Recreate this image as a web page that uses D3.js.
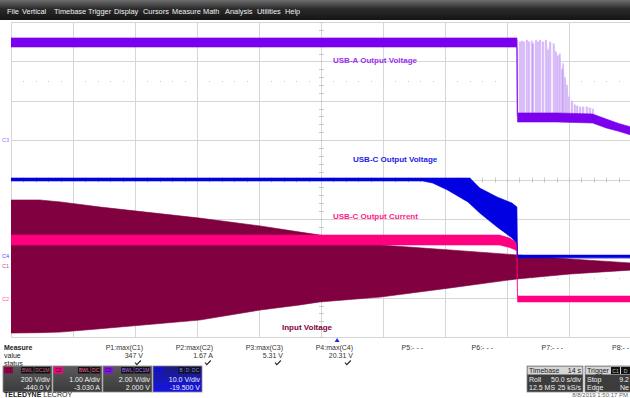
<!DOCTYPE html>
<html><head><meta charset="utf-8">
<script src="https://cdn.jsdelivr.net/npm/d3@7"></script>
<style>body{margin:0;background:#fff;overflow:hidden}svg{display:block;font-family:'Liberation Sans',Arial,sans-serif}</style>
</head><body><svg id="c" width="630" height="398"></svg>
<script>
// ---------------- DATA ----------------
const menuItems = ["File","Vertical","Timebase","Trigger","Display","Cursors","Measure","Math","Analysis","Utilities","Help"];

const chNames = ["C1","C2","C3","C4"];
const chVdiv = [200, 1, 2, 10];
const chOffset = [-440, -3.03, 2, -19.5];
const chScaleLabels = ["200 V/div","1.00 A/div","2.00 V/div","10.0 V/div"];
const chOffsetLabels = ["-440.0 V","-3.030 A","2.000 V","-19.500 V"];
const chTags = [["BWL","DC1M"],["BWL","DC"],["BWL","DC1M"],["B","D","DC"]];

// time in seconds (50 s/div, 10 div)
// C1: input voltage envelope (V)
const c1Time = [0, 23, 40, 72, 152, 201, 233, 249, 298, 354, 408, 451, 500];
const c1Hi   = [336, 336, 326, 300, 244, 204, 173, 158, 107, 82, 57, 36, 16];
const c1Lo   = [-340, -338, -335, -318, -274, -223, -197, -182, -157, -111, -65, -40, -20];
// C2: USB-C output current (A)
const c2Time = [0, 394, 402, 406, 408, 408.5, 500];
const c2Hi   = [1.62, 1.62, 1.544, 1.47, 1.42, 0.07, 0.07];
const c2Lo   = [1.367, 1.367, 1.305, 1.25, 1.22, -0.08, -0.08];
// C3: USB-A output voltage (V)
const c3Time = [0, 408, 408.5, 440, 469, 480, 490, 500];
const c3Hi   = [5.19, 5.19, 1.38, 1.38, 1.33, 1.07, 0.85, 0.67];
const c3Lo   = [4.73, 4.73, 0.92, 0.92, 0.87, 0.62, 0.45, 0.26];
const c3SpikeTime = [408.1,410.5,412.1,413.7,416.1,417.7,420.2,421.0,423.4,425.0,426.6,429.0,431.5,433.1,434.7,437.9,439.5,441.1,442.7,444.4,445.2,446.8,448.4,450.0,452.4,454.8,456.5,458.9,461.3,464.5,466.9,469.4];
const c3SpikePeak = [5.1,5.0,5.05,5.0,5.1,5.0,5.05,4.9,5.1,5.0,5.1,5.0,5.1,4.6,5.0,4.9,4.5,4.3,4.4,3.6,3.9,3.2,2.8,2.2,2.0,1.8,1.75,1.7,1.7,1.7,1.65,1.6];
// C4: USB-C output voltage (V)
const c4Time = [0, 332, 340, 352, 368.5, 370, 378, 392, 404, 408, 408.5, 500];
const c4Hi   = [19.88,19.88,19.88,19.88,19.88,19.88,17.34,15.05,13.53,12.52,0.3,0.3];
const c4Lo   = [19.12,19.12,18.61,16.83,13.79,13.35,11.0,7.44,4.65,3.37,-0.4,-0.4];

const traceLabels = ["USB-A Output Voltage","USB-C Output Voltage","USB-C Output Current","Input Voltage"];

const measNames  = ["P1:max(C1)","P2:max(C2)","P3:max(C3)","P4:max(C4)","P5:- - -","P6:- - -","P7:- - -","P8:- -"];
const measValues = ["347 V","1.67 A","5.31 V","20.31 V","","","",""];
const measOk     = [true,true,true,true,false,false,false,false];
const measRows   = ["Measure","value","status"];

const timebaseRows = [["Timebase","14 s"],["Roll","50.0 s/div"],["12.5 MS","25 kS/s"]];
const triggerRows  = [["Trigger",""],["Stop","9.2"],["Edge","Ne"]];
const triggerTags  = ["C1","D"];
const dateText = "8/8/2019 1:50:17 PM";

// ---------------- LAYOUT ----------------
const svg = d3.select("#c");
const PL=11, PR=631, PT=22, PB=337;
const x = d3.scaleLinear().domain([0,500]).range([PL,PR]);
const div = d3.scaleLinear().domain([-4,4]).range([PB,PT]);
const chY = i => v => div((v + chOffset[i]) / chVdiv[i]);
const colors = {C1:"#800040", C2:"#ff0080", C3:"#7a00ee", C4:"#0000e0"};
const defs = svg.append("defs");

// menu bar
const mg = defs.append("linearGradient").attr("id","mg").attr("x1",0).attr("y1",0).attr("x2",0).attr("y2",1);
mg.append("stop").attr("offset","0").attr("stop-color","#6e6e6e");
mg.append("stop").attr("offset","0.45").attr("stop-color","#2a2a2a");
mg.append("stop").attr("offset","1").attr("stop-color","#151515");
svg.append("rect").attr("x",0).attr("y",0).attr("width",630).attr("height",20).attr("fill","url(#mg)");
const menuX = [7,22,54,88,114,143,172,203,225,257,285];
svg.append("g").selectAll("text").data(menuItems).join("text")
  .attr("x",(d,i)=>menuX[i]).attr("y",13.5).attr("font-size",7.4).attr("fill","#f0f0f0").text(d=>d);

// grid
const grid = svg.append("g").attr("stroke","#d6d6d6").attr("stroke-width",1);
d3.range(0,501,50).forEach(t=>grid.append("line").attr("x1",Math.round(x(t))+0.5).attr("x2",Math.round(x(t))+0.5).attr("y1",PT).attr("y2",PB));
d3.range(-4,4.01,1).forEach(d=>grid.append("line").attr("x1",PL).attr("x2",PR).attr("y1",Math.round(div(d))+0.5).attr("y2",Math.round(div(d))+0.5));
// center ticks
const tk = svg.append("g").attr("stroke","#c8c8c8").attr("stroke-width",1);
d3.range(-4,4.001,0.2).forEach(d=>tk.append("line").attr("x1",x(250)-2).attr("x2",x(250)+3).attr("y1",Math.round(div(d))+0.5).attr("y2",Math.round(div(d))+0.5));
d3.range(0,500.1,10).forEach(t=>tk.append("line").attr("x1",Math.round(x(t))+0.5).attr("x2",Math.round(x(t))+0.5).attr("y1",div(0)-2).attr("y2",div(0)+3));
[2.5,-2.5].forEach(dv=>d3.range(0,500.1,10).forEach(t=>svg.append("rect").attr("x",Math.round(x(t))).attr("y",Math.round(div(dv))).attr("width",1).attr("height",1).attr("fill","#c8c8c8")));

// clip
defs.append("clipPath").attr("id","pc").append("rect").attr("x",PL).attr("y",PT).attr("width",PR-PL).attr("height",PB-PT);
const plot = svg.append("g").attr("clip-path","url(#pc)");

function band(ci, times, hi, lo, color){
  const y = chY(ci);
  const data = times.map((t,i)=>({t,hi:hi[i],lo:lo[i]}));
  plot.append("path").datum(data)
    .attr("d", d3.area().x(d=>x(d.t)).y0(d=>y(d.lo)).y1(d=>y(d.hi)))
    .attr("fill", color).attr("stroke",color).attr("stroke-width",0.6);
}
band(0, c1Time, c1Hi, c1Lo, colors.C1);
band(1, c2Time, c2Hi, c2Lo, colors.C2);
band(3, c4Time, c4Hi, c4Lo, colors.C4);
{
  const y = chY(2);
  const sp = c3SpikeTime.map((t,i)=>({t,p:c3SpikePeak[i]}));
  plot.append("path").datum(sp)
    .attr("d", d3.area().x(d=>x(d.t)).y0(y(1.2)).y1(d=>y(d.p)))
    .attr("fill","#f4ecfd");
  plot.append("g").selectAll("line").data(sp).join("line")
    .attr("x1",d=>x(d.t)).attr("x2",d=>x(d.t)).attr("y1",y(1.2)).attr("y2",d=>y(d.p))
    .attr("stroke","#a866f2").attr("stroke-width",0.7);
  band(2, c3Time, c3Hi, c3Lo, colors.C3);
}

// channel ground markers at left
svg.append("g").selectAll("text").data(chNames).join("text")
  .attr("x",2).attr("y",(d,i)=>chY(i)(0)+2).attr("font-size",5.5)
  .attr("fill",(d,i)=>["#c0508a","#ff5aa5","#a86cff","#4a4aff"][i]).text(d=>d);

// trace labels
const lblPos = [[333,63,"#9a30f0"],[353,162,"#2222e6"],[333,219,"#ff1a8c"],[282,330,"#800040"]];
svg.append("g").selectAll("text").data(traceLabels).join("text")
  .attr("x",(d,i)=>lblPos[i][0]).attr("y",(d,i)=>lblPos[i][1]).attr("fill",(d,i)=>lblPos[i][2])
  .attr("font-size",8).attr("font-weight","bold").text(d=>d);

// trigger marker
svg.append("path").attr("d",`M${x(263)},338 l-2.5,4 h5 z`).attr("fill","#1030e0");

// measure panel
svg.append("g").selectAll("text").data(measRows).join("text")
  .attr("x",4).attr("y",(d,i)=>350+i*8).attr("font-size",7).attr("fill","#222")
  .attr("font-weight",(d,i)=>i===0?"bold":"normal").text(d=>d);
const mcol = measNames.map((d,i)=>143+i*70);
svg.append("g").selectAll("text").data(measNames).join("text")
  .attr("x",(d,i)=>i===7?612:mcol[i]).attr("y",350).attr("text-anchor",(d,i)=>i===7?"start":"end").attr("font-size",7).attr("fill","#333").text(d=>d);
svg.append("g").selectAll("text").data(measValues).join("text")
  .attr("x",(d,i)=>mcol[i]).attr("y",358).attr("text-anchor","end").attr("font-size",7).attr("fill","#333").text(d=>d);
svg.append("g").selectAll("path").data(measOk.map((d,i)=>[d,i]).filter(d=>d[0])).join("path")
  .attr("d",d=>{const cx=mcol[d[1]]-5; return `M${cx-3},${362.5} l1.8,2.2 l4,-4.2`;})
  .attr("fill","none").attr("stroke","#222").attr("stroke-width",1.1);

// channel boxes
const bg = defs.append("linearGradient").attr("id","bg").attr("x1",0).attr("y1",0).attr("x2",0).attr("y2",1);
bg.append("stop").attr("offset","0").attr("stop-color","#5a5a5a");
bg.append("stop").attr("offset","1").attr("stop-color","#3a3a3a");
const bb = defs.append("linearGradient").attr("id","bb").attr("x1",0).attr("y1",0).attr("x2",0).attr("y2",1);
bb.append("stop").attr("offset","0").attr("stop-color","#1c1c7a");
bb.append("stop").attr("offset","1").attr("stop-color","#1414ee");
const tagBg = ["#a0004a","#ff0080","#8a10f0","#1010f0"];
const tagTxt = ["#d06090","#ff60a8","#b070ff","#8080ff"];
chNames.forEach((n,i)=>{
  const bx = 3 + i*50, by = 366, bw = 49, bh = 26;
  const g = svg.append("g");
  g.append("rect").attr("x",bx).attr("y",by).attr("width",bw).attr("height",bh).attr("fill",i===3?"url(#bb)":"url(#bg)").attr("stroke","#888").attr("stroke-width",0.8);
  g.append("rect").attr("x",bx+1).attr("y",by+1).attr("width",9).attr("height",6.5).attr("fill",tagBg[i]);
  g.append("text").attr("x",bx+2).attr("y",by+6.4).attr("font-size",5).attr("fill","#1a1a1a").text(n);
  let tx = bx+bw-1;
  chTags[i].slice().reverse().forEach(t=>{
    const w = t.length*3.4+3;
    tx -= w;
    g.append("rect").attr("x",tx).attr("y",by+1).attr("width",w-0.8).attr("height",6.5).attr("fill","#111");
    g.append("text").attr("x",tx+(w-0.8)/2).attr("y",by+6.4).attr("text-anchor","middle").attr("font-size",5).attr("fill",tagTxt[i]).text(t);
  });
  g.append("text").attr("x",bx+bw-2).attr("y",by+16).attr("text-anchor","end").attr("font-size",7).attr("fill","#f0f0f0").text(chScaleLabels[i]);
  g.append("text").attr("x",bx+bw-2).attr("y",by+24).attr("text-anchor","end").attr("font-size",7).attr("fill","#f0f0f0").text(chOffsetLabels[i]);
});

// logo
const logo = svg.append("text").attr("x",4).attr("y",397).attr("font-size",7).attr("fill","#222");
logo.append("tspan").attr("font-weight","bold").text("TELEDYNE ");
logo.append("tspan").text("LECROY");

// info boxes
function infoBox(bx, bw, rows, tags){
  const by=366;
  svg.append("rect").attr("x",bx).attr("y",by).attr("width",bw).attr("height",26).attr("fill","#3c3c3c").attr("stroke","#888").attr("stroke-width",0.8);
  svg.append("rect").attr("x",bx+0.5).attr("y",by+0.5).attr("width",bw-1).attr("height",8).attr("fill","#d6d6d6");
  rows.forEach((r,k)=>{
    const c = k===0?"#222":"#f0f0f0";
    svg.append("text").attr("x",bx+2).attr("y",by+7+k*8.5).attr("font-size",7).attr("fill",c).text(r[0]);
    if(r[1]) svg.append("text").attr("x",bx+bw-2).attr("y",by+7+k*8.5).attr("text-anchor","end").attr("font-size",7).attr("fill",c).text(r[1]);
  });
  tags.forEach((t,j)=>{
    svg.append("rect").attr("x",bx+26+j*10).attr("y",by+1).attr("width",9).attr("height",7).attr("fill","#111");
    svg.append("text").attr("x",bx+30.5+j*10).attr("y",by+6.8).attr("text-anchor","middle").attr("font-size",5).attr("fill","#c0c0c0").text(t);
  });
}
infoBox(527, 56, timebaseRows, []);
infoBox(585, 46, triggerRows, triggerTags);

svg.append("text").attr("x",628).attr("y",397).attr("text-anchor","end").attr("font-size",6).attr("fill","#666").text(dateText);
</script></body></html>
